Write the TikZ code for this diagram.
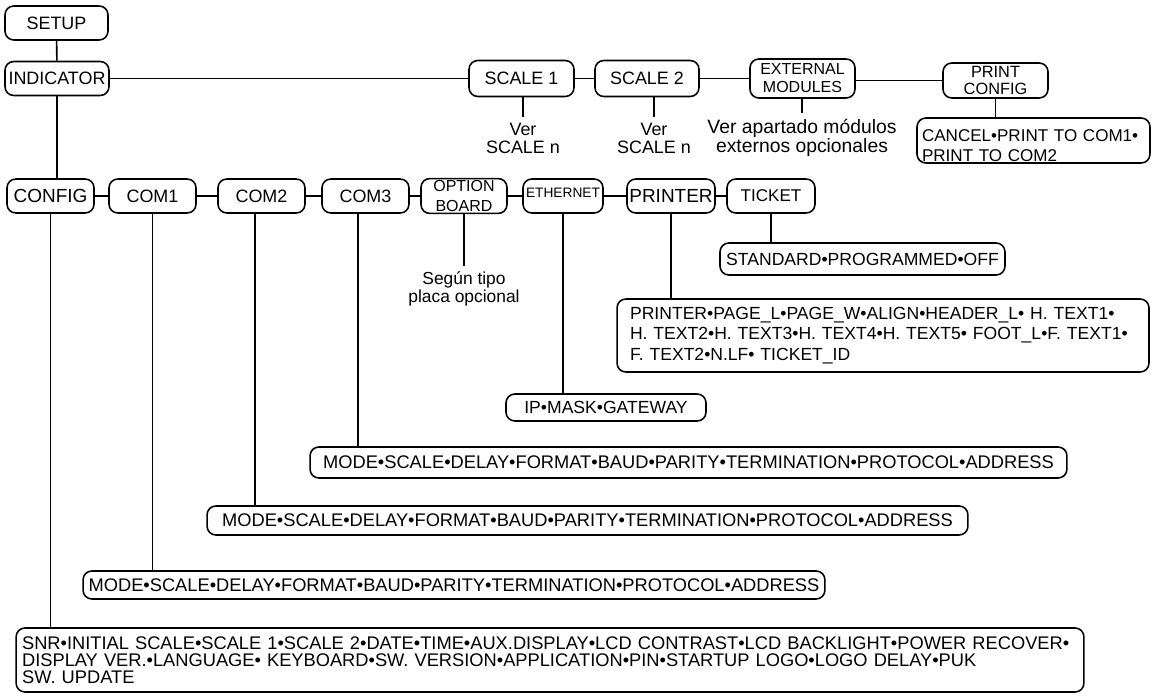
\documentclass[tikz,border=0pt]{standalone}
\usepackage{fontspec}
\setmainfont{Liberation Sans}
\newcommand\fs[2]{\fontsize{#1}{#2}\selectfont}

\begin{document}
\begin{tikzpicture}[x=.02cm,y=-.02cm,line width=.9pt,
  box/.style={draw,rounded corners=5pt,inner sep=1pt,font=\fs{10.2}{11}},
  lst/.style={draw,rounded corners=5pt,inner sep=0pt,font=\fs{10.4}{11}},
  txt/.style={align=center,inner sep=3pt,font=\fs{10.2}{10.2}}]
\useasboundingbox (0,0) rectangle (1152,696);
% top row
\node[box,minimum width=2.06cm,minimum height=.68cm] (setup) at (56.5,23) {SETUP};
\node[box,minimum width=2.08cm,minimum height=.68cm] (ind) at (57,78.5) {INDICATOR};
\node[box,minimum width=2.1cm,minimum height=.72cm] (sc1) at (521.5,78.5) {SCALE 1};
\node[box,minimum width=2.08cm,minimum height=.72cm] (sc2) at (647,78.5) {SCALE 2};
\node[box,minimum width=2.1cm,minimum height=.78cm,align=center,font=\fs{9.1}{10.2}] (ext) at (802.5,78.5) {EXTERNAL\\MODULES};
\node[box,minimum width=2.1cm,minimum height=.7cm,align=center,font=\fs{9.3}{9.7}] (pc) at (995.5,80.5) {PRINT\\CONFIG};
\node[lst,minimum height=.9cm,text width=4.46cm,inner xsep=.1cm,align=left,font=\fs{9.7}{11.4}] (pcl) at (1033.5,140.5) {\rule{0pt}{12.5pt}CANCEL•PRINT TO COM1•\\PRINT TO COM2};
\node[txt] (v1) at (523,138) {Ver\\SCALE n};
\node[txt] (v2) at (654,138) {Ver\\SCALE n};
\node[txt,font=\fs{11}{10.2}] (vx) at (802,138) {Ver apartado módulos\\externos opcionales};
% second row
\node[box,minimum width=1.74cm,minimum height=.68cm,font=\fs{10.8}{11}] (cfg) at (50.5,196) {CONFIG};
\node[box,minimum width=1.74cm,minimum height=.68cm] (com1) at (152.5,196) {COM1};
\node[box,minimum width=1.74cm,minimum height=.68cm] (com2) at (261.5,196) {COM2};
\node[box,minimum width=1.74cm,minimum height=.68cm] (com3) at (365.5,196) {COM3};
\node[box,minimum width=1.72cm,minimum height=.68cm,align=center,font=\fs{9.1}{11.4}] (opt) at (464,196) {OPTION\\BOARD};
\node[box,minimum width=1.6cm,minimum height=.68cm,font=\fs{7.8}{8}] (eth) at (563,196) {\raisebox{3.4pt}{ETHERNET}};
\node[box,minimum width=1.76cm,minimum height=.68cm,font=\fs{10.8}{11}] (prn) at (671,196) {PRINTER};
\node[box,minimum width=1.76cm,minimum height=.68cm,font=\fs{9.7}{11}] (tck) at (771,196) {TICKET};
\node[txt,font=\fs{9.9}{10.2}] (optt) at (464,289) {Según tipo\\placa opcional};
% option lists
\node[lst,minimum width=5.7cm,minimum height=.64cm,font=\fs{10}{11}] (tckl) at (862.5,259) {STANDARD•PROGRAMMED•OFF};
\node[lst,minimum height=1.46cm,text width=10.12cm,inner xsep=.26cm,align=left,font=\fs{10}{11.7}] (prnl) at (883,335.5) {PRINTER•PAGE\_L•PAGE\_W•ALIGN•HEADER\_L• H. TEXT1•\\H. TEXT2•H. TEXT3•H. TEXT4•H. TEXT5• FOOT\_L•F. TEXT1•\\F. TEXT2•N.LF• TICKET\_ID};
\node[lst,minimum width=4cm,minimum height=.54cm,font=\fs{10}{11}] (ethl) at (606,407.5) {IP•MASK•GATEWAY};
\node[lst,minimum width=15.14cm,minimum height=.62cm] (com3l) at (688.5,462.5) {MODE•SCALE•DELAY•FORMAT•BAUD•PARITY•TERMINATION•PROTOCOL•ADDRESS};
\node[lst,minimum width=15.22cm,minimum height=.58cm] (com2l) at (587.5,520.5) {MODE•SCALE•DELAY•FORMAT•BAUD•PARITY•TERMINATION•PROTOCOL•ADDRESS};
\node[lst,minimum width=14.84cm,minimum height=.56cm] (com1l) at (454,585) {MODE•SCALE•DELAY•FORMAT•BAUD•PARITY•TERMINATION•PROTOCOL•ADDRESS};
\node[lst,minimum height=1.28cm,text width=21.12cm,inner xsep=.12cm,align=left,font=\fs{10.4}{9.8}] (cfgl) at (550,660) {SNR•INITIAL SCALE•SCALE 1•SCALE 2•DATE•TIME•AUX.DISPLAY•LCD CONTRAST•LCD BACKLIGHT•POWER RECOVER•\\DISPLAY VER.•LANGUAGE• KEYBOARD•SW. VERSION•APPLICATION•PIN•STARTUP LOGO•LOGO DELAY•PUK\\SW. UPDATE};
% connectors
\draw (setup) -- (ind);
\foreach \a/\b in {ind/sc1,sc1/sc2,sc2/ext} \draw (\a) -- (\b);
\draw (pc.west) -- (pc.west -| ext.east);
\draw (pc.south) -- (pc.south |- pcl.north);
\draw (v1.north) -- (v1.north |- sc1.south);
\draw (v2.north) -- (v2.north |- sc2.south);
\draw (vx.north) -- (vx.north |- ext.south);
\draw (ind.south) -- (ind.south |- cfg.north);
\foreach \a/\b in {cfg/com1,com1/com2,com2/com3,com3/opt,opt/eth,eth/prn,prn/tck} \draw (\a) -- (\b);
\coordinate (c2) at ([xshift=-3.7pt]com2.south);
\coordinate (c3) at ([xshift=-4.3pt]com3.south);
\draw (cfg.south) -- (cfg.south |- cfgl.north);
\draw (com1.south) -- (com1.south |- com1l.north);
\draw (c2) -- (c2 |- com2l.north);
\draw (c3) -- (c3 |- com3l.north);
\draw (opt) -- (optt);
\draw (eth.south) -- (eth.south |- ethl.north);
\draw (prn.south) -- (prn.south |- prnl.north);
\draw (tck.south) -- (tck.south |- tckl.north);
\end{tikzpicture}
\end{document}
